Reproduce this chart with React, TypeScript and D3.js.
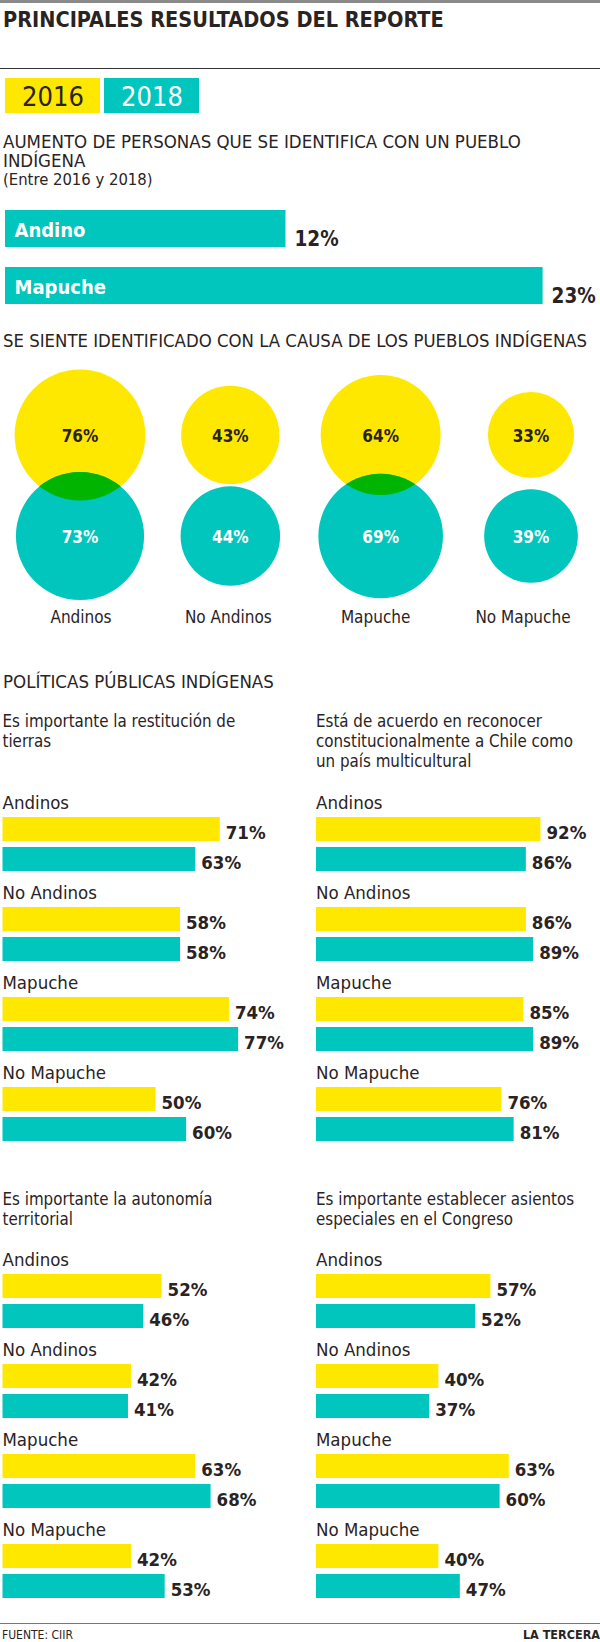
import React from "react";
import * as d3 from "d3";

// ---------- DATA ----------
const years = ["2016", "2018"];
const growthCategories = ["Andino", "Mapuche"];
const growthValues = [12, 23];

const circleCategories = ["Andinos", "No Andinos", "Mapuche", "No Mapuche"];
const circle2016 = [76, 43, 64, 33];
const circle2018 = [73, 44, 69, 39];

const groupCategories = ["Andinos", "No Andinos", "Mapuche", "No Mapuche"];

const restitucionTitle = ["Es importante la restitución de", "tierras"];
const restitucion2016 = [71, 58, 74, 50];
const restitucion2018 = [63, 58, 77, 60];

const multiculturalTitle = [
  "Está de acuerdo en reconocer",
  "constitucionalmente a Chile como",
  "un país multicultural",
];
const multicultural2016 = [92, 86, 85, 76];
const multicultural2018 = [86, 89, 89, 81];

const autonomiaTitle = ["Es importante la autonomía", "territorial"];
const autonomia2016 = [52, 42, 63, 42];
const autonomia2018 = [46, 41, 68, 53];

const asientosTitle = ["Es importante establecer asientos", "especiales en el Congreso"];
const asientos2016 = [57, 40, 63, 40];
const asientos2018 = [52, 37, 60, 47];

// ---------- STYLE ----------
const YELLOW = "#ffe800";
const TEAL = "#00c6bd";
const GREEN = "#00b400";
const DARK = "#2a231f";
const FONT = "'Liberation Sans Narrow', 'DejaVu Sans Condensed', 'Arial Narrow', sans-serif";
const LIGHT_FONT = "'DejaVu Sans ExtraLight', 'DejaVu Sans Condensed', sans-serif";

const W = 600;
const H = 1642;

type Panel = {
  title: string[];
  v2016: number[];
  v2018: number[];
  x0: number;
  titleY: number;
  groupY: number;
  maxW: number;
};

const panels: Panel[] = [
  { title: restitucionTitle, v2016: restitucion2016, v2018: restitucion2018, x0: 2.5, titleY: 727, groupY: 809, maxW: 306 },
  { title: multiculturalTitle, v2016: multicultural2016, v2018: multicultural2018, x0: 316, titleY: 727, groupY: 809, maxW: 244 },
  { title: autonomiaTitle, v2016: autonomia2016, v2018: autonomia2018, x0: 2.5, titleY: 1205, groupY: 1266, maxW: 306 },
  { title: asientosTitle, v2016: asientos2016, v2018: asientos2018, x0: 316, titleY: 1205, groupY: 1266, maxW: 306 },
];

function BarPanel({ p }: { p: Panel }) {
  const x = d3.scaleLinear().domain([0, 100]).range([0, p.maxW]);
  const yGroup = d3.scaleBand<string>().domain(groupCategories).range([p.groupY, p.groupY + 360]).padding(0);
  const yInner = d3.scaleBand<string>().domain(years).range([8, 62]).paddingInner(0.2).paddingOuter(0);
  return (
    <g>
      {p.title.map((t, i) => (
        <text key={i} x={p.x0} y={p.titleY + i * 20} fontSize={16.8} fill={DARK} fontFamily={FONT}>
          {t}
        </text>
      ))}
      {groupCategories.map((c, i) => {
        const gy = yGroup(c)!;
        const vals = [p.v2016[i], p.v2018[i]];
        return (
          <g key={c}>
            <text x={p.x0} y={gy} fontSize={18.5} fill={DARK} fontFamily={FONT}>
              {c}
            </text>
            {years.map((yr, j) => {
              const by = gy + yInner(yr)!;
              const bh = yInner.bandwidth();
              const w = x(vals[j]);
              return (
                <g key={yr}>
                  <rect x={p.x0} y={by} width={w} height={bh} fill={j === 0 ? YELLOW : TEAL} />
                  <text
                    x={p.x0 + w + 6}
                    y={by + bh - 2.5}
                    fontSize={18.5}
                    fontWeight="bold"
                    fill={DARK}
                    fontFamily={FONT}
                  >
                    {vals[j]}%
                  </text>
                </g>
              );
            })}
          </g>
        );
      })}
    </g>
  );
}

export default function App() {
  // growth bars
  const xGrowth = d3.scaleLinear().domain([0, d3.max(growthValues)!]).range([0, 537.6]);
  const yGrowth = d3.scaleBand<string>().domain(growthCategories).range([210, 304]).paddingInner(0.351).paddingOuter(0);

  // circles
  const xCircle = d3.scalePoint<string>().domain(circleCategories).range([80, 531]);
  const xCircleLabel = d3.scalePoint<string>().domain(circleCategories).range([81, 523]);
  const r = d3.scaleSqrt().domain([0, 100]).range([0, 75]);
  const yCircle = d3.scalePoint<string>().domain(years).range([435, 536]);

  return (
    <svg
      width={W}
      height={H}
      viewBox={`0 0 ${W} ${H}`}
      style={{ position: "absolute", left: 0, top: 0, background: "#fff" }}
      fontFamily={FONT}
    >
      <rect x={0} y={0} width={W} height={H} fill="#fff" />
      {/* header */}
      <rect x={0} y={0} width={W} height={3} fill="#8a8a8a" />
      <text x={3} y={27} fontSize={21.5} fontWeight="bold" fill={DARK}>
        PRINCIPALES RESULTADOS DEL REPORTE
      </text>
      <rect x={0} y={68} width={W} height={1} fill="#333" />

      {/* legend */}
      {years.map((yr, i) => (
        <g key={yr}>
          <rect x={5 + i * 99} y={78} width={95} height={35} fill={i === 0 ? YELLOW : TEAL} />
          <text
            x={5 + i * 99 + 48}
            y={106}
            fontSize={27}
            textAnchor="middle"
            fontFamily={LIGHT_FONT}
            fill={i === 0 ? DARK : "#fff"}
          >
            {yr}
          </text>
        </g>
      ))}

      {/* growth section */}
      <text x={3} y={148} fontSize={18.5} fill={DARK}>
        AUMENTO DE PERSONAS QUE SE IDENTIFICA CON UN PUEBLO
      </text>
      <text x={3} y={167} fontSize={18.5} fill={DARK}>
        INDÍGENA
      </text>
      <text x={3} y={185} fontSize={16.5} fill={DARK}>
        (Entre 2016 y 2018)
      </text>
      {growthCategories.map((c, i) => {
        const y = yGrowth(c)!;
        const h = yGrowth.bandwidth();
        const w = xGrowth(growthValues[i]);
        return (
          <g key={c}>
            <rect x={5} y={y} width={w} height={h} fill={TEAL} />
            <text x={14.5} y={y + 27} fontSize={20} fontWeight="bold" fill="#fff">
              {c}
            </text>
            <text x={5 + w + 9} y={y + h - 1} fontSize={20.5} fontWeight="bold" fill={DARK}>
              {growthValues[i]}%
            </text>
          </g>
        );
      })}

      {/* circles */}
      <text x={3} y={347} fontSize={18.4} fill={DARK}>
        SE SIENTE IDENTIFICADO CON LA CAUSA DE LOS PUEBLOS INDÍGENAS
      </text>
      <defs>
        {circleCategories.map((c, i) => (
          <clipPath id={`clip-${i}`} key={c}>
            <circle cx={xCircle(c)} cy={yCircle("2018")} r={r(circle2018[i])} />
          </clipPath>
        ))}
      </defs>
      {circleCategories.map((c, i) => {
        const cx = xCircle(c)!;
        const r1 = r(circle2016[i]);
        const r2 = r(circle2018[i]);
        const cy1 = yCircle("2016")!;
        const cy2 = yCircle("2018")!;
        return (
          <g key={c}>
            <circle cx={cx} cy={cy1} r={r1} fill={YELLOW} />
            <circle cx={cx} cy={cy2} r={r2} fill={TEAL} />
            <circle cx={cx} cy={cy1} r={r1} fill={GREEN} clipPath={`url(#clip-${i})`} />
            <text x={cx} y={cy1 + 7} fontSize={17} fontWeight="bold" textAnchor="middle" fill={DARK}>
              {circle2016[i]}%
            </text>
            <text x={cx} y={cy2 + 7} fontSize={17} fontWeight="bold" textAnchor="middle" fill="#fff">
              {circle2018[i]}%
            </text>
            <text x={xCircleLabel(c)} y={623} fontSize={17} textAnchor="middle" fill={DARK}>
              {c}
            </text>
          </g>
        );
      })}

      {/* policies */}
      <text x={3} y={688} fontSize={18.5} fill={DARK}>
        POLÍTICAS PÚBLICAS INDÍGENAS
      </text>
      {panels.map((p, i) => (
        <BarPanel key={i} p={p} />
      ))}

      {/* footer */}
      <rect x={0} y={1623} width={W} height={1} fill="#777" />
      <text x={2} y={1639} fontSize={12} fill={DARK}>
        FUENTE: CIIR
      </text>
      <text x={600} y={1639} fontSize={12.5} fontWeight="bold" textAnchor="end" fill={DARK}>
        LA TERCERA
      </text>
    </svg>
  );
}
